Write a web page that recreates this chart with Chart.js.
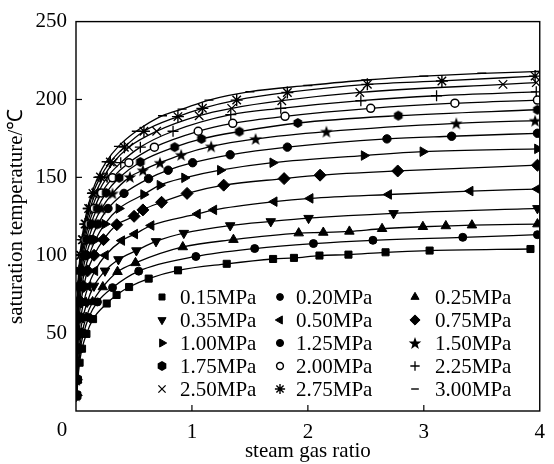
<!DOCTYPE html>
<html><head><meta charset="utf-8">
<script src="https://cdn.jsdelivr.net/npm/chart.js@4.4.1/dist/chart.umd.min.js"></script>
<style>html,body{margin:0;padding:0;background:#fff;}canvas{display:block}</style>
</head><body>
<canvas id="c" width="554" height="464"></canvas>
<script>
// ---------- data (steam gas ratio, saturation temperature) ----------
const seriesLabels = ['0.15MPa','0.20MPa','0.25MPa','0.35MPa','0.50MPa','0.75MPa','1.00MPa','1.25MPa','1.50MPa','1.75MPa','2.00MPa','2.25MPa','2.50MPa','2.75MPa','3.00MPa'];
const xTickValues = [0,1,2,3,4];
const yTickValues = [50,100,150,200,250];

const P015 = [[0.008,10],[0.016,20],[0.031,31],[0.052,40],[0.09,49.5],[0.147,59],[0.265,69],[0.35,74.5],[0.458,79.6],[0.627,85],[0.88,90.3],[1.30,94.5],[1.70,97.6],[1.88,98.3],[2.10,99.8],[2.35,100.4],[2.67,101.9],[3.05,103],[3.92,104]];
const P020 = [[0.006,10],[0.012,20],[0.038,40],[0.066,50],[0.11,60],[0.185,70],[0.315,79.2],[0.541,89.8],[1.034,99.2],[1.541,104.3],[2.048,107.5],[2.561,109.6],[3.336,111.5],[3.98,113.2]];
const P025 = [[0.005,10],[0.0095,20],[0.03,40],[0.052,50],[0.087,60],[0.143,70],[0.231,79.6],[0.358,89.4],[0.513,95.1],[0.921,105.3],[1.358,110],[1.921,114.2],[2.133,114.6],[2.358,115.3],[2.64,117],[2.992,118.3],[3.19,118.8],[3.415,119.3],[3.98,120]];
const P035 = [[0.0035,10],[0.0067,20],[0.021,40],[0.036,50],[0.06,60],[0.097,70],[0.155,80.3],[0.25,90],[0.366,97.3],[0.521,103],[0.69,108.9],[0.93,114.2],[1.33,119.1],[1.68,121.7],[2.006,123.8],[2.739,126.9],[3.98,130.1]];
const P050 = [[0.0025,10],[0.0047,20],[0.015,40],[0.025,50],[0.041,60],[0.067,70],[0.105,80],[0.163,90],[0.254,100],[0.395,109.4],[0.507,113.6],[0.648,119.1],[1.048,126.5],[1.189,129.1],[1.71,134.4],[2.02,136.5],[2.697,139],[3.4,141.2],[3.98,142.5]];
const P075 = [[0.0016,10],[0.0031,20],[0.0099,40],[0.017,50],[0.027,60],[0.043,70],[0.067,80],[0.1,90],[0.156,100],[0.237,110],[0.352,119.6],[0.501,125],[0.577,129.1],[0.738,134],[0.958,139.7],[1.274,145],[1.795,149.2],[2.105,151.4],[2.775,154.1],[3.98,157.8]];
const P100 = [[0.0012,10],[0.0024,20],[0.0074,40],[0.0125,50],[0.02,60],[0.032,70],[0.05,80],[0.075,90],[0.113,100],[0.168,110],[0.248,120],[0.37,130],[0.583,139],[0.724,145],[0.936,149.7],[1.245,154.6],[1.697,159.4],[2.485,164],[2.992,166.5],[3.98,168.3]];
const P125 = [[0.001,10],[0.0019,20],[0.006,40],[0.01,50],[0.016,60],[0.026,70],[0.04,80],[0.059,90],[0.088,100],[0.13,110],[0.189,120],[0.276,130],[0.414,139.7],[0.626,149.2],[0.795,154.6],[1.006,159.4],[1.33,164.5],[1.823,169.4],[2.682,174.7],[3.24,176.4],[3.98,178.3]];
const P150 = [[0.0008,10],[0.0016,20],[0.005,40],[0.0083,50],[0.0135,60],[0.021,70],[0.033,80],[0.049,90],[0.072,100],[0.106,110],[0.153,120],[0.22,130],[0.315,139.7],[0.465,150.3],[0.577,154.6],[0.724,159.4],[0.907,164.5],[1.166,169.9],[1.549,174.7],[2.16,179.4],[3.28,184.7],[3.96,186.4]];
const P175 = [[0.0007,10],[0.0013,20],[0.0042,40],[0.0071,50],[0.0116,60],[0.018,70],[0.028,80],[0.041,90],[0.061,100],[0.089,110],[0.128,120],[0.183,130],[0.26,140],[0.372,149.7],[0.555,159.9],[0.851,169.4],[1.082,174.7],[1.409,179.4],[1.913,184.9],[2.78,189.6],[3.98,193.4]];
const P200 = [[0.0006,10],[0.0012,20],[0.0037,40],[0.0062,50],[0.0101,60],[0.0158,70],[0.024,80],[0.036,90],[0.053,100],[0.077,110],[0.11,120],[0.157,130],[0.22,140],[0.315,149.7],[0.456,159.4],[0.676,169.4],[1.054,179.6],[1.352,184.7],[1.803,189.2],[2.542,194.3],[3.268,197.6],[3.98,199.6]];
const P225 = [[0.0005,10],[0.001,20],[0.0033,40],[0.0055,50],[0.009,60],[0.014,70],[0.0215,80],[0.032,90],[0.047,100],[0.068,110],[0.097,120],[0.137,130],[0.19,140],[0.268,150],[0.386,159.4],[0.555,169.4],[0.837,179.6],[1.335,190.3],[1.766,194.3],[2.457,199.2],[3.11,202.4],[3.97,204.9]];
const P250 = [[0.0005,10],[0.0009,20],[0.003,40],[0.005,50],[0.008,60],[0.0126,70],[0.019,80],[0.029,90],[0.042,100],[0.061,110],[0.086,120],[0.121,130],[0.169,140],[0.236,150],[0.32,159.4],[0.456,169.4],[0.696,179.6],[1.062,189.6],[1.343,194.3],[1.775,199.2],[2.448,204.5],[3.683,209.7],[3.97,210.8]];
const P275 = [[0.0004,10],[0.0009,20],[0.0027,40],[0.0045,50],[0.0073,60],[0.0115,70],[0.0175,80],[0.026,90],[0.038,100],[0.055,110],[0.078,120],[0.109,130],[0.146,139.7],[0.211,150.3],[0.296,159.9],[0.417,169.4],[0.586,179.6],[0.879,189],[1.09,194.3],[1.386,199.6],[1.823,204.5],[2.513,209.7],[3.156,211.9],[3.96,215]];
const P300 = [[0.0004,10],[0.0008,20],[0.0025,40],[0.0041,50],[0.0067,60],[0.0105,70],[0.016,80],[0.024,90],[0.035,100],[0.05,110],[0.071,120],[0.099,130],[0.137,140],[0.188,150],[0.26,160],[0.366,169.9],[0.52,179.6],[0.746,189.6],[0.915,193.8],[1.147,199.6],[1.5,205],[2.0,209],[2.5,212.5],[3.0,215],[3.5,216.8],[4.0,218]];

const seriesData = [P015,P020,P025,P035,P050,P075,P100,P125,P150,P175,P200,P225,P250,P275,P300];

// ---------- marker images ----------
function makeStar(){
  const c=document.createElement('canvas'); c.width=14; c.height=14;
  const g=c.getContext('2d'); g.fillStyle='#000'; g.beginPath();
  for(let i=0;i<10;i++){const a=-Math.PI/2+i*Math.PI/5; const rr=i%2?2.7:6.6; g.lineTo(7+rr*Math.cos(a),7.6+rr*Math.sin(a));}
  g.closePath(); g.fill(); return c;
}
function makeHex(){
  const c=document.createElement('canvas'); c.width=12; c.height=12;
  const g=c.getContext('2d'); g.fillStyle='#000'; g.beginPath();
  for(let i=0;i<6;i++){const a=Math.PI/6+i*Math.PI/3; g.lineTo(6+5*Math.cos(a),6+5*Math.sin(a));}
  g.closePath(); g.fill(); return c;
}
const starImg=makeStar(), hexImg=makeHex();

const markerStyles = [
  {s:'rect',r:5,rot:0,bg:'#000',bw:1},
  {s:'circle',r:4,rot:0,bg:'#000',bw:1},
  {s:'triangle',r:5.5,rot:0,bg:'#000',bw:1},
  {s:'triangle',r:5.5,rot:180,bg:'#000',bw:1},
  {s:'triangle',r:5.5,rot:-90,bg:'#000',bw:1},
  {s:'rectRot',r:6,rot:0,bg:'#000',bw:1},
  {s:'triangle',r:5.5,rot:90,bg:'#000',bw:1},
  {s:'circle',r:4.2,rot:0,bg:'#000',bw:1},
  {s:starImg,r:6,rot:0,bg:'#000',bw:1},
  {s:hexImg,r:5,rot:0,bg:'#000',bw:1},
  {s:'circle',r:4,rot:0,bg:'#fff',bw:1.5},
  {s:'cross',r:5.5,rot:0,bg:'#000',bw:1.3},
  {s:'crossRot',r:6,rot:0,bg:'#000',bw:1.3},
  {s:'star',r:6,rot:0,bg:'#000',bw:1.4},
  {s:'line',r:4.5,rot:0,bg:'#000',bw:1.4}
];

const FONT = "'Liberation Serif','Times New Roman',serif";
const FS = 21;

const datasets = seriesData.map((d,i)=>({
  label: seriesLabels[i],
  data: d.map(p=>({x:p[0],y:p[1]})),
  showLine:true,
  borderColor:'#000',
  borderWidth:1.3,
  cubicInterpolationMode:'monotone',
  pointStyle: markerStyles[i].s,
  pointRadius: markerStyles[i].r,
  pointRotation: markerStyles[i].rot,
  pointBackgroundColor: markerStyles[i].bg,
  pointBorderColor:'#000',
  pointBorderWidth: markerStyles[i].bw,
  clip:0
}));

const legendCols = [{mx:162,tx:180},{mx:280,tx:296},{mx:415,tx:435}];
const legendRows = [297,320,343,366,389];

const framePlugin = {
  id:'frame',
  afterDraw(chart){
    const ctx=chart.ctx, a=chart.chartArea, xs=chart.scales.x, ys=chart.scales.y;
    ctx.save();
    ctx.strokeStyle='#000'; ctx.lineWidth=1.4;
    ctx.strokeRect(a.left,a.top,a.right-a.left,a.bottom-a.top);
    ctx.lineWidth=1.2;
    xTickValues.forEach(v=>{ if(v>0&&v<4){const px=xs.getPixelForValue(v); ctx.beginPath(); ctx.moveTo(px,a.bottom); ctx.lineTo(px,a.bottom-6); ctx.stroke();}});
    yTickValues.forEach(v=>{ if(v<250){const py=ys.getPixelForValue(v); ctx.beginPath(); ctx.moveTo(a.left,py); ctx.lineTo(a.left+6,py); ctx.stroke();}});
    // origin label
    ctx.fillStyle='#000'; ctx.font=FS+'px '+FONT; ctx.textAlign='center'; ctx.textBaseline='top';
    ctx.fillText('0', xs.getPixelForValue(0)-14, a.bottom+9);
    // legend
    ctx.textAlign='left'; ctx.textBaseline='middle';
    seriesLabels.forEach((lab,i)=>{
      const col=legendCols[i%3], row=legendRows[Math.floor(i/3)];
      const m=markerStyles[i];
      ctx.save();
      ctx.fillStyle=m.bg; ctx.strokeStyle='#000'; ctx.lineWidth=m.bw;
      Chart.helpers.drawPoint(ctx,{pointStyle:m.s,radius:m.r*0.85,rotation:m.rot,borderWidth:m.bw},col.mx,row);
      ctx.restore();
      ctx.fillStyle='#000';
      ctx.fillText(lab,col.tx,row+1);
    });
    ctx.restore();
  }
};

new Chart(document.getElementById('c'),{
  type:'scatter',
  data:{datasets},
  options:{
    responsive:false, animation:false, devicePixelRatio:1,
    layout:{padding:{top:18,right:5,left:0,bottom:0}},
    plugins:{legend:{display:false},tooltip:{enabled:false}},
    scales:{
      x:{type:'linear',min:0,max:4,
        afterFit(s){s.height=53;},
        grid:{display:false,drawTicks:false}, border:{display:false},
        ticks:{stepSize:1,padding:9,color:'#000',font:{family:FONT,size:FS},maxRotation:0,
          callback:v=>v===0?'':String(v)},
        title:{display:true,text:'steam gas ratio',color:'#000',font:{family:FONT,size:FS},padding:{top:0,bottom:0}}
      },
      y:{type:'linear',min:0,max:250,
        afterFit(s){s.width=76;},
        grid:{display:false,drawTicks:false}, border:{display:false},
        ticks:{stepSize:50,padding:9,color:'#000',font:{family:FONT,size:FS},
          callback:v=>v===0?'':String(v)},
        title:{display:true,text:'saturation temperature/℃',color:'#000',font:{family:FONT,size:FS},padding:{top:4,bottom:0}}
      }
    }
  },
  plugins:[framePlugin]
});
</script>
</body></html>
